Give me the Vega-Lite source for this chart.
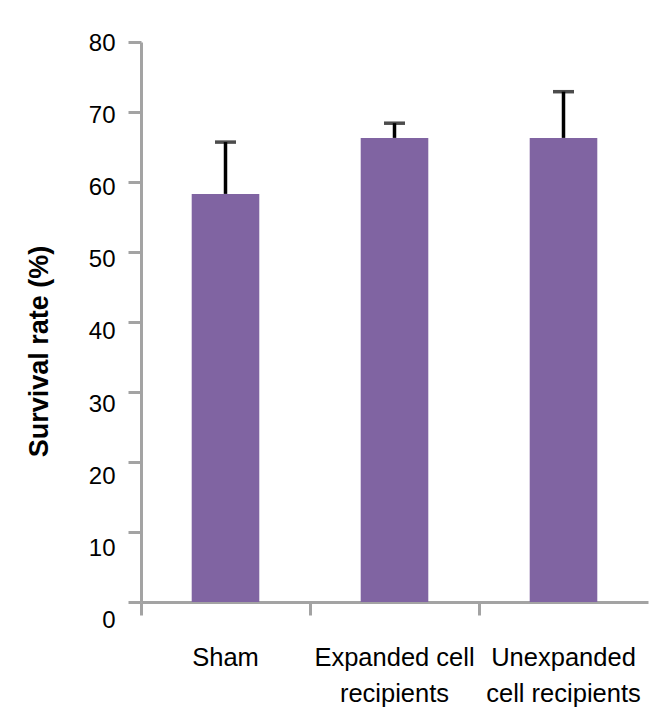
{
  "$schema": "https://vega.github.io/schema/vega-lite/v6.json",
  "width": 507,
  "height": 560,
  "autosize": "none",
  "padding": {"left": 141, "top": 42, "right": 1, "bottom": 118},
  "background": "white",
  "data": {
    "values": [
      {"group": "Sham", "rate": 58.3, "upper": 65.7},
      {"group": "Expanded cell recipients", "rate": 66.3, "upper": 68.4},
      {"group": "Unexpanded cell recipients", "rate": 66.3, "upper": 72.9}
    ]
  },
  "config": {
    "view": {"stroke": null},
    "font": "Liberation Sans",
    "axis": {
      "grid": false,
      "domainColor": "#a3a3a3",
      "domainWidth": 3,
      "tickColor": "#a3a3a3",
      "tickWidth": 3,
      "labelFont": "Liberation Sans",
      "labelFontSize": 24,
      "labelColor": "black"
    }
  },
  "encoding": {
    "x": {
      "field": "group",
      "type": "nominal",
      "sort": null,
      "scale": {"paddingInner": 0, "paddingOuter": 0}
    }
  },
  "resolve": {"axis": {"x": "independent"}},
  "layer": [
    {
      "mark": {"type": "bar", "color": "#8064A2", "width": {"band": 0.4}},
      "encoding": {
        "x": {
          "field": "group",
          "type": "nominal",
          "sort": null,
          "axis": {
            "orient": "bottom",
            "title": null,
            "ticks": false,
            "tickSize": 0,
            "labelAngle": 0,
            "labelFontSize": 25.5,
            "labelPadding": 43,
            "labelLineHeight": 36,
            "labelExpr": "datum.label == 'Expanded cell recipients' ? ['Expanded cell', 'recipients'] : datum.label == 'Unexpanded cell recipients' ? ['Unexpanded', 'cell recipients'] : datum.label"
          }
        },
        "y": {
          "field": "rate",
          "type": "quantitative",
          "scale": {"domain": [0, 80], "nice": false},
          "axis": {
            "title": "Survival rate (%)",
            "titleFont": "Liberation Sans",
            "titleFontSize": 27,
            "titleFontWeight": "bold",
            "titleColor": "black",
            "titleX": -94,
            "titleY": 309,
            "titleBaseline": "alphabetic",
            "titleAlign": "center",
            "titleAngle": -90,
            "values": [0, 10, 20, 30, 40, 50, 60, 70, 80],
            "tickSize": 13,
            "labelPadding": 13,
            "labelOffset": {
              "condition": [
                {"test": "datum.value == 0", "value": 18},
                {"test": "datum.value == 10", "value": 16},
                {"test": "datum.value == 20", "value": 14},
                {"test": "datum.value == 30", "value": 12},
                {"test": "datum.value == 40", "value": 9},
                {"test": "datum.value == 50", "value": 7},
                {"test": "datum.value == 60", "value": 5},
                {"test": "datum.value == 70", "value": 3}
              ],
              "value": 1
            }
          }
        }
      }
    },
    {
      "mark": {"type": "rule", "color": "black", "strokeWidth": 3.5},
      "encoding": {
        "x": {
          "field": "group",
          "type": "nominal",
          "sort": null,
          "axis": {
            "orient": "bottom",
            "title": null,
            "labels": false,
            "domain": false,
            "ticks": true,
            "tickSize": 13,
            "bandPosition": 0
          }
        },
        "y": {"field": "rate", "type": "quantitative", "title": "Survival rate (%)"},
        "y2": {"field": "upper"}
      }
    },
    {
      "mark": {"type": "tick", "color": "black", "size": 21, "thickness": 3.5, "orient": "horizontal"},
      "encoding": {
        "x": {"field": "group", "type": "nominal", "sort": null, "axis": null},
        "y": {"field": "upper", "type": "quantitative", "title": "Survival rate (%)"}
      }
    }
  ]
}
